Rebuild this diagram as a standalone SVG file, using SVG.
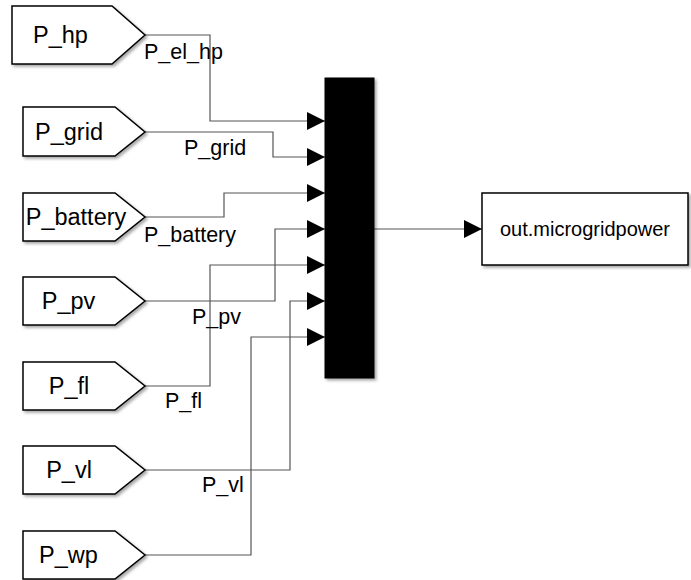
<svg xmlns="http://www.w3.org/2000/svg" width="691" height="580" viewBox="0 0 691 580">
<defs>
<filter id="sh" x="-10%" y="-10%" width="130%" height="130%">
<feDropShadow dx="2" dy="2" stdDeviation="1.5" flood-color="#000" flood-opacity="0.35"/>
</filter>
<marker id="ah" markerUnits="userSpaceOnUse" markerWidth="18" markerHeight="18" refX="18" refY="9" orient="auto">
<path d="M0,0 L18,9 L0,18 Z" fill="#000"/>
</marker>
</defs>
<style>
.blk{fill:#fff;stroke:#000;stroke-width:1.5;filter:url(#sh)}
.bt{font-family:"Liberation Sans",Arial,sans-serif;font-size:23.5px;fill:#000}
.wl{font-family:"Liberation Sans",Arial,sans-serif;font-size:21.5px;fill:#000}
.w{fill:none;stroke:#555;stroke-width:1.2}
</style>
<rect width="691" height="580" fill="#fff"/>
<g id="connectors">
<path class="w" d="M145,35 H210 V121 H325" marker-end="url(#ah)"/>
<path class="w" d="M145,132 H273 V157 H325" marker-end="url(#ah)"/>
<path class="w" d="M145,217 H224 V193 H325" marker-end="url(#ah)"/>
<path class="w" d="M145,301 H275 V229 H325" marker-end="url(#ah)"/>
<path class="w" d="M145,386 H210 V265 H325" marker-end="url(#ah)"/>
<path class="w" d="M145,470 H290 V301 H325" marker-end="url(#ah)"/>
<path class="w" d="M145,555 H251 V337 H325" marker-end="url(#ah)"/>
<path class="w" d="M374,229 H482" marker-end="url(#ah)"/>
<text class="wl" x="144" y="59">P_el_hp</text>
<text class="wl" x="184" y="155">P_grid</text>
<text class="wl" x="144" y="242">P_battery</text>
<text class="wl" x="192" y="324">P_pv</text>
<text class="wl" x="165" y="408">P_fl</text>
<text class="wl" x="202" y="492">P_vl</text>
</g>
<g id="P_hp">
<path class="blk" d="M12,6 H112 L145,35 L112,64 H12 Z"/>
<text class="bt" x="60.5" y="43" text-anchor="middle">P_hp</text>
</g>
<g id="P_grid">
<path class="blk" d="M23,107 H115 L145,132 L115,156 H23 Z"/>
<text class="bt" x="69" y="140" text-anchor="middle">P_grid</text>
</g>
<g id="P_battery">
<path class="blk" d="M23,193 H115 L145,217 L115,241 H23 Z"/>
<text class="bt" x="76" y="225" text-anchor="middle">P_battery</text>
</g>
<g id="P_pv">
<path class="blk" d="M23,277 H115 L145,301 L115,325 H23 Z"/>
<text class="bt" x="68.5" y="309" text-anchor="middle">P_pv</text>
</g>
<g id="P_fl">
<path class="blk" d="M23,362 H115 L145,386 L115,410 H23 Z"/>
<text class="bt" x="69" y="394" text-anchor="middle">P_fl</text>
</g>
<g id="P_vl">
<path class="blk" d="M23,446 H115 L145,470 L115,494 H23 Z"/>
<text class="bt" x="69" y="478" text-anchor="middle">P_vl</text>
</g>
<g id="P_wp">
<path class="blk" d="M23,531 H115 L145,555 L115,579 H23 Z"/>
<text class="bt" x="68.5" y="563" text-anchor="middle">P_wp</text>
</g>
<g id="mux">
<rect x="325" y="78" width="49" height="300" fill="#000" stroke="#000" stroke-width="1" filter="url(#sh)"/>
</g>
<g id="out_microgridpower">
<rect class="blk" x="482" y="193" width="206" height="72"/>
<text class="wl" x="585" y="236" text-anchor="middle" style="font-size:20px">out.microgridpower</text>
</g>
</svg>
